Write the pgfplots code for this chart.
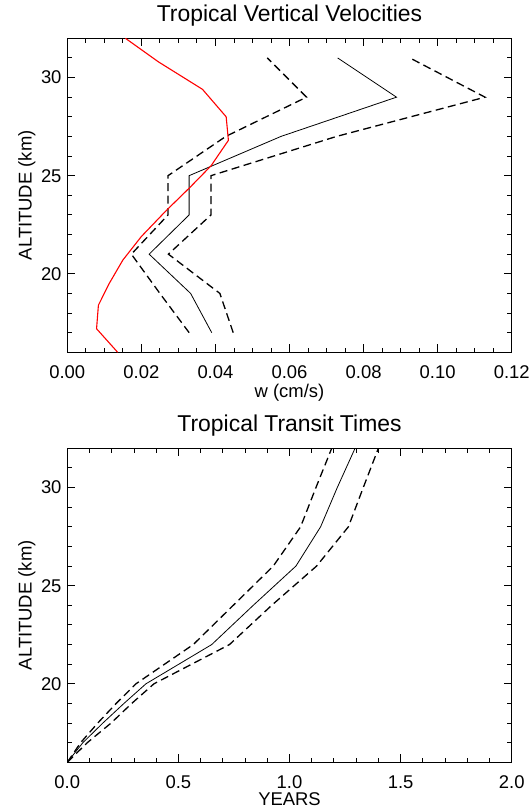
\documentclass[border=0pt]{standalone}
\usepackage{fontspec}
\setmainfont{Liberation Sans}
\usepackage{pgfplots}
\pgfplotsset{compat=1.18}
\pgfplotsset{idl/.style={
  scale only axis, width=444.4bp, height=314bp,
  ymin=16, ymax=32, ytick={20,25,30}, minor ytick={16,...,32},
  tick align=inside, major tick length=8bp, minor tick length=4.5bp,
  axis line style={line width=1.2bp},
  every tick/.style={line width=0.9bp,black},
  tick label style={font=\fontsize{18.5}{20}\selectfont, /pgf/number format/assume math mode=true},
  label style={font=\fontsize{18.5}{20}\selectfont},
  xticklabel style={anchor=north, inner sep=0pt, yshift=-13bp},
  yticklabel style={anchor=east, inner sep=0pt, xshift=-5.6bp},
  title style={font=\fontsize{23}{26}\selectfont, at={(axis description cs:0.5,1.035)}, anchor=base, inner sep=0pt},
  xlabel style={at={(axis description cs:0.5,-0.1449)}, anchor=base, inner sep=0pt},
  ylabel style={at={(axis description cs:-0.0801,0.5)}, anchor=base, inner sep=0pt},
  scaled x ticks=false,
  ylabel={ALTITUDE (km)},
  dsh/.style={black, line width=1.3bp, dash pattern=on 8bp off 4.5bp},
  sld/.style={black, line width=0.8bp},
}}
\begin{document}
\begin{tikzpicture}
\path[use as bounding box] (0,0) rectangle (532bp,810bp);
\begin{axis}[idl, at={(67.3bp,457.7bp)}, anchor=south west,
  xmin=0, xmax=0.12, xtick={0,0.02,0.04,0.06,0.08,0.10,0.12}, minor x tick num=3,
  xticklabel style={/pgf/number format/.cd, fixed, fixed zerofill, precision=2},
  title={Tropical Vertical Velocities}, xlabel={w (cm/s)}]
\addplot[sld] table {
0.0390 17
0.0333 19
0.0221 21
0.0329 23
0.0329 25
0.0577 27
0.0889 29
0.0730 31
};
\addplot[dsh] table {
0.0329 17
0.0250 19
0.0173 21
0.0272 23
0.0272 25
0.0428 27
0.0646 29
0.0540 31
};
\addplot[dsh] table {
0.0448 17
0.0412 19
0.0273 21
0.0388 23
0.0388 25
0.0727 27
0.1128 29
0.0925 31
};
\addplot[red, line width=1.1bp] table {
0.0136 16.0
0.0079 17.2
0.0084 18.4
0.0113 19.5
0.0150 20.7
0.0200 21.9
0.0266 23.2
0.0331 24.4
0.0388 25.5
0.0435 26.8
0.0429 28.0
0.0365 29.4
0.0246 30.8
0.0157 32.0
};
\end{axis}
\begin{axis}[idl, at={(67.3bp,47.7bp)}, anchor=south west,
  xmin=0, xmax=2, xtick={0,0.5,1,1.5,2}, minor x tick num=4,
  xticklabel style={/pgf/number format/.cd, fixed, fixed zerofill, precision=1},
  xlabel style={at={(axis description cs:0.5,-0.1385)}},
  title={Tropical Transit Times}, xlabel={YEARS}]
\addplot[sld] table {
0 16
0.07 17
0.16 18
0.255 19
0.354 20
0.650 22
0.837 24
1.029 26
1.140 28
1.215 30
1.295 32
};
\addplot[dsh] table {
0 16
0.06 17
0.137 18
0.22 19
0.309 20
0.567 22
0.747 24
0.927 26
1.050 28
1.119 30
1.190 32
};
\addplot[dsh] table {
0 16
0.09 17
0.197 18
0.29 19
0.39 20
0.73 22
0.92 24
1.122 26
1.265 28
1.332 30
1.400 32
};
\end{axis}
\end{tikzpicture}
\end{document}
